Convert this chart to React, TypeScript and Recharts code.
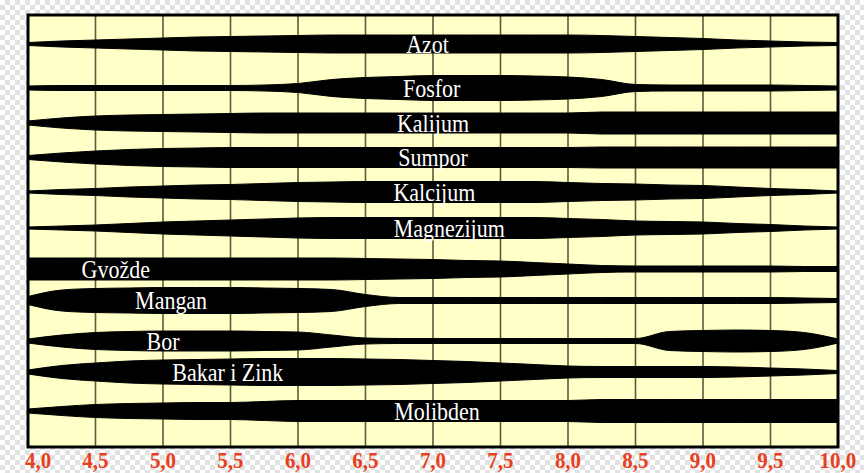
import React from "react";
import {
  ComposedChart, Area, XAxis, YAxis, CartesianGrid, ReferenceArea, ReferenceDot,
} from "recharts";

// pH sample points (every 0.25)
const phPoints = [
  4.0, 4.25, 4.5, 4.75, 5.0, 5.25, 5.5, 5.75, 6.0, 6.25, 6.5, 6.75, 7.0,
  7.25, 7.5, 7.75, 8.0, 8.25, 8.5, 8.75, 9.0, 9.25, 9.5, 9.75, 10.0,
];
const phTicks = [4, 4.5, 5, 5.5, 6, 6.5, 7, 7.5, 8, 8.5, 9, 9.5, 10];
const tickLabels = ["4,0", "4,5", "5,0", "5,5", "6,0", "6,5", "7,0", "7,5", "8,0", "8,5", "9,0", "9,5", "10,0"];

const nutrients = [
  "Azot", "Fosfor", "Kalijum", "Sumpor", "Kalcijum", "Magnezijum",
  "Gvožde", "Mangan", "Bor", "Bakar i Zink", "Molibden",
];
// band centre, measured down from the top of the plot
const rowCenters = [29, 73, 108, 142.5, 177, 213, 254, 285.5, 326, 357, 396];
const labelPH = [6.96, 6.99, 7.0, 7.0, 7.01, 7.12, 4.65, 5.06, 5.0, 5.48, 7.03];

// band thickness at each pH point
const azot = [3, 6, 8, 10, 12, 14, 15, 16, 17, 18, 18, 18, 18, 18, 18, 18, 18, 17, 15, 13, 11, 8, 6, 4, 3];
const fosfor = [4, 5, 5, 5, 5, 5, 5, 6, 9, 17, 21, 23, 25, 25, 25, 24, 22, 17, 7, 6, 6, 6, 6, 5, 4];
const kalijum = [4, 10, 14, 16, 17, 18, 19, 20, 20, 20, 20, 20, 20, 20, 20, 20, 20, 22, 22, 22, 22, 22, 22, 22, 22];
const sumpor = [4, 9, 13, 16, 18, 19, 20, 20, 20, 20, 20, 20, 20, 20, 20, 20, 20, 21, 21, 21, 21, 21, 21, 21, 21];
const kalcijum = [2, 5, 7, 10, 12, 14, 15, 17, 19, 20, 21, 21, 21, 21, 21, 21, 19, 17, 16, 14, 13, 10, 7, 5, 2];
const magnezijum = [2, 4, 6, 9, 12, 14, 16, 18, 20, 21, 21, 21, 21, 21, 21, 21, 19, 17, 14, 13, 12, 9, 7, 4, 2];
const gvozde = [22, 22, 22, 22, 22, 22, 22, 22, 22, 22, 21, 20, 19, 17, 16, 13, 10, 7, 6, 6, 6, 6, 6, 5, 5];
const mangan = [8, 21, 24, 25, 26, 26, 26, 25, 24, 22, 12, 6, 6, 6, 6, 6, 6, 6, 6, 6, 6, 6, 6, 5, 4];
const bor = [4, 12, 17, 19, 20, 20, 20, 19, 18, 12, 6, 5, 5, 5, 5, 5, 5, 5, 5, 19, 21, 22, 21, 17, 4];
const bakarZink = [4, 13, 18, 22, 24, 25, 26, 27, 27, 27, 26, 25, 23, 21, 18, 15, 12, 11, 11, 11, 11, 10, 8, 6, 3];
const molibden = [4, 9, 13, 15, 16, 17, 17, 19, 21, 21, 21, 21, 21, 21, 21, 21, 21, 23, 23, 23, 23, 23, 23, 23, 23];

const bands = [azot, fosfor, kalijum, sumpor, kalcijum, magnezijum, gvozde, mangan, bor, bakarZink, molibden];

const data = phPoints.map((ph, i) => {
  const row: Record<string, any> = { ph };
  bands.forEach((b, k) => {
    const c = rowCenters[k];
    row[`b${k}`] = [c - b[i] / 2, c + b[i] / 2];
  });
  return row;
});

const SERIF = "Liberation Serif, Times New Roman, serif";

function PhTick({ x, y, index }: any) {
  const first = index === 0;
  const base = y + 19;
  return (
    <text
      x={first ? x - 3 : x}
      y={base}
      textAnchor={first ? "start" : "middle"}
      fill="#e8401c"
      style={{ fontFamily: SERIF, fontWeight: 700, fontSize: 21 }}
      transform={`translate(0, ${-base * 0.12}) scale(1, 1.12)`}
    >
      {tickLabels[index]}
    </text>
  );
}

export default function App() {
  return (
    <div
      style={{
        position: "fixed", left: 0, top: 0, width: 864, height: 473,
        backgroundColor: "#ffffff",
        backgroundImage: "repeating-conic-gradient(#e2e2e2 0% 25%, #ffffff 0% 50%)",
        backgroundSize: "10px 10px",
      }}
    >
      <ComposedChart
        width={864}
        height={473}
        data={data}
        margin={{ top: 15, right: 26, bottom: 0, left: 28 }}
      >
        <CartesianGrid
          horizontal={false}
          stroke="#5c5a3c"
          strokeWidth={1.6}
          fill="#ffffc8"
          fillOpacity={1}
        />
        <XAxis
          dataKey="ph"
          type="number"
          domain={[4, 10]}
          ticks={phTicks}
          height={26}
          axisLine={false}
          tickLine={false}
          tickSize={0}
          tick={<PhTick />}
          interval={0}
        />
        <YAxis hide type="number" domain={[0, 432]} reversed />
        {bands.map((_, k) => (
          <Area
            key={k}
            dataKey={`b${k}`}
            type="monotone"
            stroke="#000"
            strokeWidth={1}
            fill="#000"
            fillOpacity={1}
            isAnimationActive={false}
            dot={false}
            activeDot={false}
          />
        ))}
        <ReferenceArea x1={4} x2={10} y1={0} y2={432} fill="none" stroke="#000" strokeWidth={3} />
        {nutrients.map((n, k) => (
          <ReferenceDot
            key={n}
            x={labelPH[k]}
            y={rowCenters[k]}
            r={0}
            shape={(p: any) => (
              <text
                x={0}
                y={0}
                textAnchor="middle"
                dominantBaseline="central"
                fill="#ffffff"
                style={{ fontFamily: SERIF, fontSize: 22 }}
                transform={`translate(${p.cx}, ${p.cy}) scale(1, 1.15)`}
              >
                {n}
              </text>
            )}
          />
        ))}
      </ComposedChart>
    </div>
  );
}
